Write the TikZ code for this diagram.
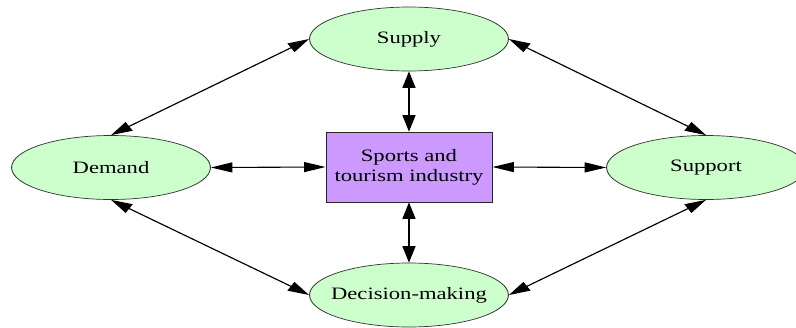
\documentclass[tikz,border=0pt]{standalone}
\usepackage{fontspec}
\setmainfont{Liberation Serif}
\usetikzlibrary{shapes.geometric,arrows.meta}
\definecolor{nodegreen}{HTML}{CCFFCC}
\definecolor{boxpurple}{HTML}{CC99FF}
\begin{document}
\begin{tikzpicture}[x=1pt,y=-1pt]
\useasboundingbox (0,0) rectangle (796,327);
\begin{scope}[transform canvas={xscale=1.3},
  ell/.style={ellipse, draw=black!80, line width=0.7pt, fill=nodegreen,
    minimum width=153pt, minimum height=64pt, inner sep=0pt,
    font=\fontsize{17.4}{20}\selectfont},
  indbox/.style={rectangle, draw=black!85, line width=0.7pt, fill=boxpurple,
    minimum width=127.7pt, minimum height=70pt, inner sep=0pt, align=center,
    font=\fontsize{17.4}{20}\selectfont},
  conn/.style={line width=1.1pt, >={Triangle[length=16.5pt,width=10pt]}, <->}]
\node[ell] (sup) at (314.6,39) {\makebox[0pt]{Supply}};
\node[ell] (dem) at (85.4,167.5) {\makebox[0pt]{Demand}};
\node[ell] (spt) at (543.1,167.5) {\makebox[0pt]{Support}};
\node[ell] (dec) at (314.6,295) {\makebox[0pt]{Decision-making}};
\node[indbox] (ind) at (314.6,167) {Sports and\\tourism industry};
\draw[conn] (dem.north) -- (sup.west);
\draw[conn] (sup.east) -- (spt.north);
\draw[conn] (dem.south) -- (dec.west);
\draw[conn] (dec.east) -- (spt.south);
\draw[conn] (dem.east) -- (ind.west);
\draw[conn] (ind.east) -- (spt.west);
\draw[conn] (sup.south) -- (ind.north);
\draw[conn] (ind.south) -- (dec.north);
\end{scope}
\end{tikzpicture}
\end{document}
